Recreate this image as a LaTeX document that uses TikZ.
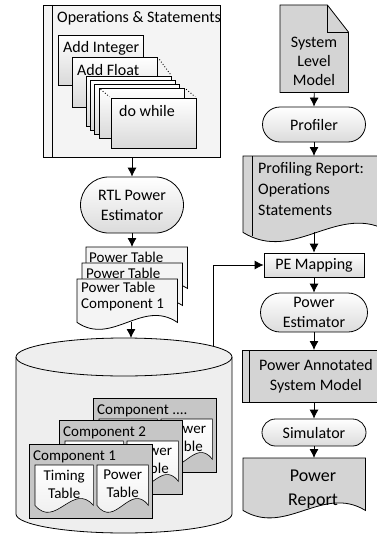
\documentclass[tikz,border=0pt]{standalone}
\usepackage{fontspec}
\setmainfont{Carlito}
\usepackage{tikz}
\usetikzlibrary{positioning,shapes,arrows.meta,calc}
\definecolor{boxgray}{RGB}{212,212,212}
\definecolor{compgray}{RGB}{198,198,198}
\definecolor{palegray}{RGB}{244,244,244}
\definecolor{dbgray}{RGB}{238,238,238}
\tikzstyle{term}=[%
      rounded rectangle, draw=black, line width=0.8pt, top color=white, bottom color=black!14,
      align=center, inner sep=2pt
]
\tikzstyle{proc}=[%
      rectangle, draw=black, line width=0.8pt, top color=white, bottom color=black!14,
      align=center, inner sep=2pt
]
\tikzstyle{opbox}=[%
      rectangle, draw=black, line width=0.6pt, top color=white, bottom color=black!15,
      anchor=north west, minimum width=85pt, minimum height=50pt
]
\tikzstyle{frame}=[%
      rectangle, draw=none, anchor=north west, inner sep=0pt
]
\tikzstyle{compbox}=[%
      rectangle, draw=black, line width=0.8pt, fill=compgray,
      anchor=north west, minimum width=123pt, minimum height=74pt
]
\tikzstyle{inlbl}=[anchor=west, inner sep=0pt, xshift=5pt, yshift=-13pt]
\tikzstyle{small}=[font=\fontsize{15}{16}\selectfont]
\tikzstyle{arr}=[-{Latex[length=9pt,width=9pt]}, line width=0.8pt]

% document outline with wavy bottom, drawn round a frame node
\newcommand{\wavedoc}[3]{%
  \path[#3] (#1.south west) -- (#1.north west) -- (#1.north east) -- (#1.south east)
    .. controls ($(#1.south east)!0.35!(#1.south west)+(0,-#2)$)
            and ($(#1.south west)!0.35!(#1.south east)+(0,#2)$) .. (#1.south west) -- cycle;}

% one component sheet of the library (#4: timing text, empty when hidden)
\newcommand{\component}[4]{%
  \node[compbox] (#1) at (#2) {};
  \node[small, anchor=west, inner sep=0pt] (#1txt) at ($(#1.north west)+(4,13)$) {#3};
  \node[frame, minimum width=58pt, minimum height=40pt] (#1tim) at ($(#1.north west)+(6,21)$) {};
  \wavedoc{#1tim}{24}{draw, line width=0.6pt, top color=white, bottom color=black!8}
  \def\timtext{#4}%
  \ifx\timtext\empty\else
    \node[align=center, font=\fontsize{15}{18}\selectfont] (#1timtxt) at ($(#1tim.center)+(0,-1)$) {#4};
  \fi
  \node[frame, minimum width=51pt, minimum height=40pt] (#1pow) at ($(#1.north west)+(68,21)$) {};
  \wavedoc{#1pow}{24}{draw, line width=0.6pt, top color=white, bottom color=black!8}
  \node[align=center, font=\fontsize{15}{18}\selectfont] (#1powtxt) at ($(#1pow.center)+(0,-1)$) {Power\\Table};
}

\begin{document}
\begin{tikzpicture}[x=1pt, y=-1pt, font=\fontsize{16}{20}\selectfont]
  \useasboundingbox (0,0) rectangle (376,535);

  % operations and statements
  \node[draw, line width=0.8pt, fill=palegray, anchor=north west,
        minimum width=177pt, minimum height=152pt] (ops) at (43,5) {};
  \draw[line width=0.8pt] ([xshift=9pt]ops.north west) -- ([xshift=9pt]ops.south west);
  \node[anchor=west, inner sep=0pt] (opstitle) at (57,18) {Operations \& Statements};
  \node[opbox, label={[inlbl]north west:Add Integer}] (addint) at (58,35) {};
  \node[opbox, label={[inlbl]north west:Add Float}] (addflt) at (72,57) {};
  \foreach \x/\y [count=\i] in {86/76, 90/80, 94/84, 99/88}
    \node[opbox] (stk\i) at (\x,\y) {};
  \node[opbox, label={[inlbl, xshift=3pt]north west:do while}] (dowhile) at (111,98) {};
  \draw[dotted, line width=0.9pt, shorten <=3pt, shorten >=2pt] (addflt.north east) -- (stk1.north east);
  \draw[dotted, line width=0.9pt, shorten <=2pt, shorten >=2pt] (stk4.north east) -- (dowhile.north east);
  \draw[dotted, line width=0.9pt, shorten <=2pt, shorten >=2pt] (stk4.north west) -- (dowhile.north west);

  \node[term, minimum width=107pt, minimum height=56pt] (rtl) at (132,205) {RTL Power\\Estimator};
  \draw[arr] (rtl.north |- ops.south) -- (rtl.north);

  % power tables
  \node[frame, minimum width=101pt, minimum height=41pt] (ptab3) at (86,247) {};
  \wavedoc{ptab3}{22}{draw, line width=0.8pt, fill=palegray}
  \node[small, anchor=west, inner sep=0pt] (ptab3txt) at (89,257) {Power Table};
  \node[frame, minimum width=100pt, minimum height=42pt] (ptab2) at (82,263) {};
  \wavedoc{ptab2}{22}{draw, line width=0.8pt, fill=palegray}
  \node[small, anchor=west, inner sep=0pt] (ptab2txt) at (86,273) {Power Table};
  \node[frame, minimum width=100pt, minimum height=43pt] (ptab1) at (77,279) {};
  \wavedoc{ptab1}{24}{draw, line width=0.8pt, fill=palegray}
  \node[small, anchor=north west, align=left, inner sep=0pt] (ptab1txt) at (81,282) {Power Table\\Component 1};
  \draw[arr] (rtl.south) -- (rtl.south |- ptab3.north);

  % component library
  \coordinate (dbtop) at (131,338);
  \coordinate (dbout) at (213,346);
  \path[draw, line width=0.8pt, fill=dbgray] (16,357) -- (16,514)
    arc[start angle=180, end angle=360, x radius=108pt, y radius=19pt] -- (232,357)
    arc[start angle=0, end angle=180, x radius=108pt, y radius=19pt] -- cycle;
  \draw[line width=0.8pt] (16,357) arc[start angle=180, end angle=360, x radius=108pt, y radius=19pt];
  \draw[arr] (ptab1.south -| dbtop) -- (dbtop);
  \component{compn}{93,398}{Component ....}{}
  \component{comptwo}{59,420}{Component 2}{}
  \component{compone}{29,444}{Component 1}{Timing\\Table}

  % system level flow
  \node[frame, minimum width=68pt, minimum height=87pt] (slm) at (280,5) {};
  \draw[line width=0.8pt, fill=boxgray] (slm.south west) -- (slm.north west)
    -- ([xshift=-21pt]slm.north east) -- ([yshift=-27pt]slm.north east) -- (slm.south east) -- cycle;
  \draw[line width=0.8pt] ([xshift=-21pt]slm.north east) |- ([yshift=-27pt]slm.north east);
  \node[align=center, font=\fontsize{16}{19}\selectfont] (slmtxt) at (314,61) {System\\Level\\Model};

  \node[term, minimum width=107pt, minimum height=35pt] (prof) at (314,124.5) {Profiler};
  \draw[arr] (slm.south) -- (prof.north);

  \node[frame, minimum width=147pt, minimum height=76pt] (prep) at (243,156) {};
  \wavedoc{prep}{32}{draw, line width=0.8pt, fill=boxgray}
  \draw[line width=0.8pt] ([xshift=9pt]prep.north west) -- ([xshift=9pt, yshift=-4pt]prep.south west);
  \node[anchor=north west, align=left, inner sep=0pt, font=\fontsize{16}{21}\selectfont] (preptxt) at (258,162)
    {Profiling Report:\\Operations\\Statements};
  \draw[arr] (prof.south) -- (prof.south |- prep.north);

  \node[proc, minimum width=100pt, minimum height=24pt] (pemap) at (314,265) {PE Mapping};
  \draw[arr] (pemap.north |- prep.south) -- (pemap.north);
  \draw[arr] (dbout) |- (pemap.west);

  \node[term, minimum width=111pt, minimum height=39pt] (pest) at (314,312.5) {Power\\Estimator};
  \draw[arr] (pemap.south) -- (pest.north);

  \node[draw, line width=0.8pt, fill=boxgray, anchor=north west, align=center,
        minimum width=147pt, minimum height=52pt] (pasm) at (242,350) {Power Annotated\\System Model};
  \draw[line width=0.8pt] ([xshift=7pt]pasm.north west) -- ([xshift=7pt]pasm.south west);
  \draw[arr] (pest.south) -- (pest.south |- pasm.north);

  \node[term, minimum width=108pt, minimum height=27pt] (sim) at (314,432.5) {Simulator};
  \draw[arr] (sim.north |- pasm.south) -- (sim.north);

  \node[frame, minimum width=122pt, minimum height=52pt] (prpt) at (243,458) {};
  \wavedoc{prpt}{26}{draw, line width=0.8pt, fill=boxgray}
  \node[align=center, font=\fontsize{18}{24}\selectfont] (prpttxt) at (313,489) {Power\\Report};
  \draw[arr] (sim.south) -- (sim.south |- prpt.north);
\end{tikzpicture}
\end{document}
